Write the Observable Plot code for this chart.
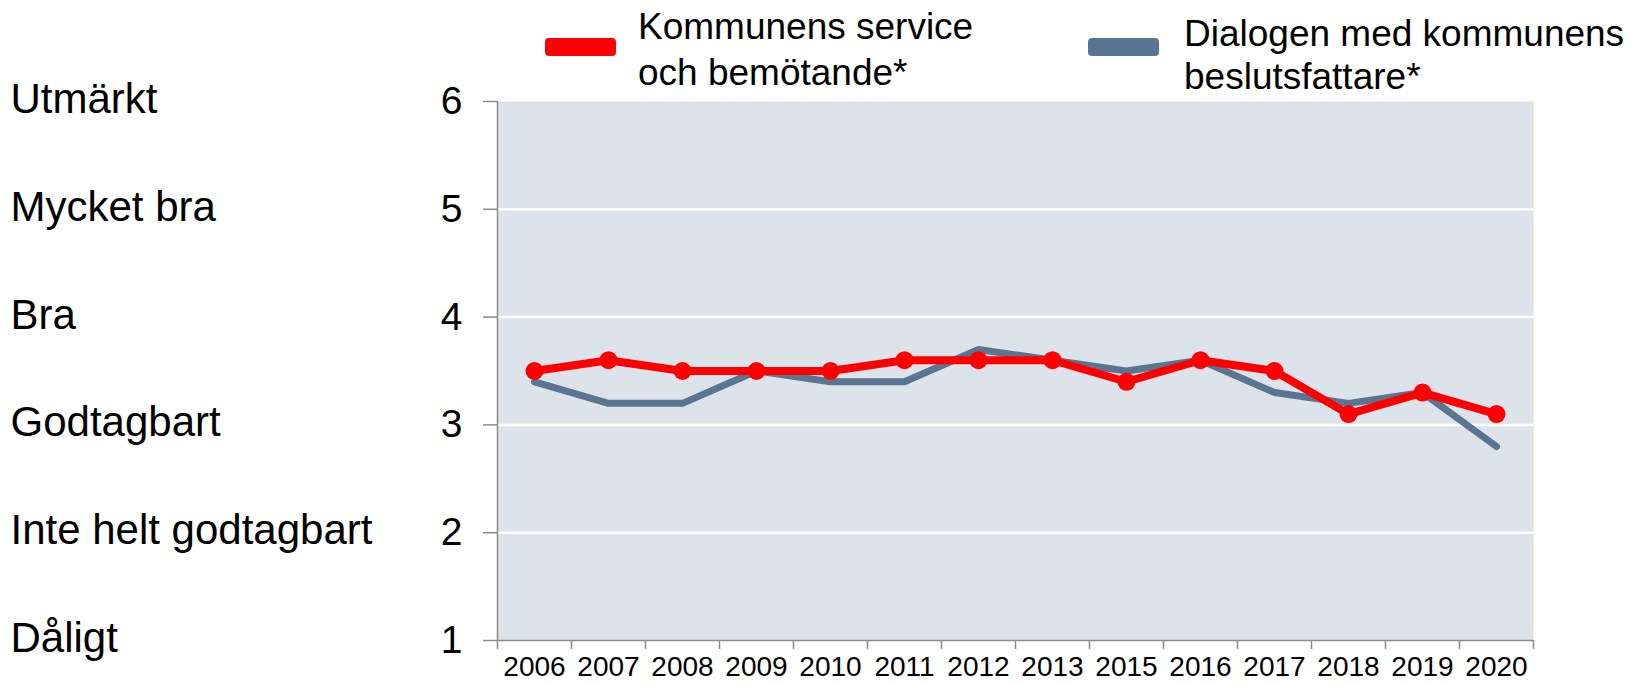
<!DOCTYPE html>
<html>
<head>
<meta charset="utf-8">
<script src="https://cdn.jsdelivr.net/npm/d3@7"></script>
<script src="https://cdn.jsdelivr.net/npm/@observablehq/plot@0.6"></script>
<style>
  html, body { margin: 0; padding: 0; background: #fff; }
  #wrap { position: relative; width: 1631px; height: 684px; font-family: "Liberation Sans", Arial, sans-serif; color: #000; }
  .sw { position: absolute; width: 71px; height: 18px; border-radius: 4px; }
  .lt { position: absolute; font-size: 37px; white-space: nowrap; }
  svg { display: block; }
</style>
</head>
<body>
<div id="wrap">
  <div id="chart"></div>
  <div class="sw" style="left:545px; top:38px; background:#ff0000;"></div>
  <div class="lt" style="left:638px; top:4px; line-height:46px;">Kommunens service<br>och bemötande*</div>
  <div class="sw" style="left:1088px; top:38px; background:#5a7591;"></div>
  <div class="lt" style="left:1184px; top:12px; line-height:43px;">Dialogen med kommunens<br>beslutsfattare*</div>
</div>
<script>
const years = ["2006","2007","2008","2009","2010","2011","2012","2013","2015","2016","2017","2018","2019","2020"];
const service = [3.5, 3.6, 3.5, 3.5, 3.5, 3.6, 3.6, 3.6, 3.4, 3.6, 3.5, 3.1, 3.3, 3.1];
const dialog  = [3.4, 3.2, 3.2, 3.5, 3.4, 3.4, 3.7, 3.6, 3.5, 3.6, 3.3, 3.2, 3.3, 2.8];
const levels = ["Dåligt", "Inte helt godtagbart", "Godtagbart", "Bra", "Mycket bra", "Utmärkt"];
const yTicks = [1, 2, 3, 4, 5, 6];
const seriesNames = ["Kommunens service och bemötande*", "Dialogen med kommunens beslutsfattare*"];

const rows = years.map((y, i) => ({year: y, xi: i + 0.5, service: service[i], dialog: dialog[i]}));
const bandEdges = d3.range(years.length + 1);
const bandCenters = years.map((_, i) => i + 0.5);

const axisGray = "#8a8a8a";
const font = "Liberation Sans, Arial, sans-serif";

const chart = Plot.plot({
  width: 1631,
  height: 684,
  marginLeft: 497,
  marginRight: 98,
  marginTop: 101,
  marginBottom: 44,
  style: {fontFamily: font, color: "#000", background: "transparent"},
  x: {type: "linear", domain: [0, years.length], axis: null},
  y: {type: "linear", domain: [1, 6], axis: null},
  marks: [
    Plot.frame({fill: "#dde3ea", stroke: null}),
    Plot.ruleY([2, 3, 4, 5], {stroke: "#ffffff", strokeWidth: 2.5}),
    Plot.ruleX([0], {stroke: axisGray, strokeWidth: 1.5}),
    Plot.ruleY([1], {stroke: axisGray, strokeWidth: 1.5}),
    Plot.axisY({ticks: yTicks, tickSize: 14, tickPadding: 21, stroke: axisGray, strokeWidth: 1.5, fontSize: 39, tickFormat: d => String(d), label: null}),
    Plot.axisY({ticks: yTicks, tickSize: 0, tickPadding: 0, textAnchor: "start", dx: -487, dy: -2, fontSize: 42, tickFormat: d => levels[d - 1], label: null}),
    Plot.axisX({ticks: bandEdges, tickSize: 9, stroke: axisGray, strokeWidth: 1.5, tickFormat: () => "", label: null}),
    Plot.axisX({ticks: bandCenters, tickSize: 0, tickPadding: 16, fontSize: 28, tickFormat: d => years[Math.round(d - 0.5)], label: null}),
    Plot.line(rows, {x: "xi", y: "dialog", stroke: "#5a7591", strokeWidth: 7, strokeLinejoin: "miter"}),
    Plot.line(rows, {x: "xi", y: "service", stroke: "#ff0000", strokeWidth: 8, strokeLinejoin: "round"}),
    Plot.dot(rows, {x: "xi", y: "service", r: 9, fill: "#ff0000", stroke: null})
  ]
});
document.getElementById("chart").appendChild(chart);
</script>
</body>
</html>
